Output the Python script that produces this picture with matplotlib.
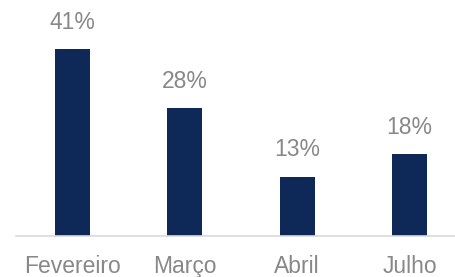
import matplotlib.pyplot as plt

months = ['Fevereiro', 'Março', 'Abril', 'Julho']
shares = [41, 28, 13, 18]
labels = ['41%', '28%', '13%', '18%']

plt.rcParams['font.family'] = ['Liberation Sans', 'DejaVu Sans']

fig = plt.figure(figsize=(4.55, 2.77), dpi=100)
ax = fig.add_axes([16 / 455, 41 / 277, 439 / 455, 236 / 277])

x = range(len(months))
bars = ax.bar(x, shares, width=0.31, color='#0e2857')
for b, lab in zip(bars, labels):
    ax.annotate(lab, (b.get_x() + b.get_width() / 2, b.get_height()),
                xytext=(0, 11), textcoords='offset points',
                ha='center', va='bottom', fontsize=16.5, color='#888888')

ax.set_xlim(-0.5, 3.404)
ax.set_ylim(0, 51.75)
ax.set_xticks(list(x))
ax.set_xticklabels(months, fontsize=16.5, color='#888888')
ax.tick_params(axis='x', length=0, pad=14)
ax.set_yticks([])
for side in ['top', 'right', 'left']:
    ax.spines[side].set_visible(False)
ax.spines['bottom'].set_color('#d9d9d9')
ax.spines['bottom'].set_linewidth(1.2)

fig.savefig('out.png', dpi=100)
